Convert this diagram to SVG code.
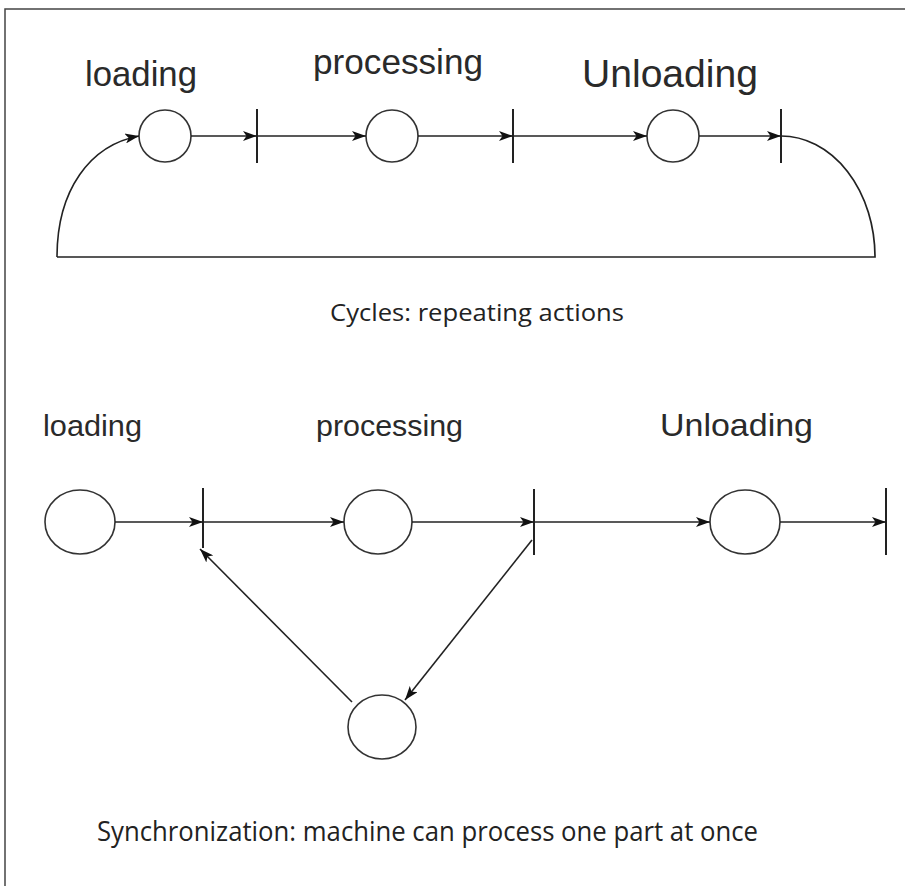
<svg xmlns="http://www.w3.org/2000/svg" width="905" height="886" viewBox="0 0 905 886">
<defs>
<marker id="ah" viewBox="0 0 14 10" refX="14" refY="5" markerWidth="14" markerHeight="10" markerUnits="userSpaceOnUse" orient="auto">
<path d="M0,0 L14,5 L0,10 L3.5,5 z" fill="#111"/>
</marker>
<style>
.lbl{font-family:"Liberation Sans",Arial,sans-serif;fill:#2a2a2a}
.cap{font-family:"Open Sans","Liberation Sans",sans-serif;fill:#222}
.node{fill:#fff;stroke:#333;stroke-width:1.6}
.bar{stroke:#222;stroke-width:2}
.con{fill:none;stroke:#222;stroke-width:1.7}
.arr{fill:none;stroke:#222;stroke-width:1.6;marker-end:url(#ah)}
</style>
</defs>
<rect width="905" height="886" fill="#fff"/>
<path d="M5,886 V9 H905" fill="none" stroke="#444" stroke-width="1.5"/>

<g id="top-labels">
<text class="lbl" x="85" y="86" font-size="35" textLength="112" lengthAdjust="spacingAndGlyphs">loading</text>
<text class="lbl" x="313" y="74" font-size="35" textLength="170" lengthAdjust="spacingAndGlyphs">processing</text>
<text class="lbl" x="582" y="87" font-size="38" textLength="176" lengthAdjust="spacingAndGlyphs">Unloading</text>
</g>

<g id="top-nodes">
<g id="t-loading"><circle class="node" cx="165" cy="136" r="26"/></g>
<g id="t-processing"><circle class="node" cx="392" cy="136" r="26"/></g>
<g id="t-unloading"><circle class="node" cx="673" cy="136" r="26"/></g>
<g id="t-bar1"><line class="bar" x1="257" y1="109" x2="257" y2="163"/></g>
<g id="t-bar2"><line class="bar" x1="513" y1="109" x2="513" y2="163"/></g>
<g id="t-bar3"><line class="bar" x1="781" y1="109" x2="781" y2="163"/></g>
</g>

<g id="top-connectors">
<line class="arr" x1="191" y1="136" x2="257" y2="136"/>
<line class="arr" x1="257" y1="136" x2="366" y2="136"/>
<line class="arr" x1="418" y1="136" x2="513" y2="136"/>
<line class="arr" x1="513" y1="136" x2="647" y2="136"/>
<line class="arr" x1="699" y1="136" x2="781" y2="136"/>
<path class="con" d="M781,136 A94,121 0 0 1 875,257 H57"/>
<path class="arr" d="M57,257 C57,190 90,145 139,136"/>
</g>

<text class="cap" x="330" y="321" font-size="24" textLength="294" lengthAdjust="spacingAndGlyphs">Cycles: repeating actions</text>

<g id="bottom-labels">
<text class="lbl" x="43" y="436" font-size="30" textLength="99" lengthAdjust="spacingAndGlyphs">loading</text>
<text class="lbl" x="316" y="436" font-size="30" textLength="147" lengthAdjust="spacingAndGlyphs">processing</text>
<text class="lbl" x="660" y="436" font-size="32" textLength="153" lengthAdjust="spacingAndGlyphs">Unloading</text>
</g>

<g id="bottom-nodes">
<g id="b-loading"><ellipse class="node" cx="80" cy="522" rx="35" ry="32"/></g>
<g id="b-processing"><ellipse class="node" cx="378" cy="522" rx="34" ry="32"/></g>
<g id="b-unloading"><ellipse class="node" cx="745" cy="522" rx="35" ry="32"/></g>
<g id="b-machine"><ellipse class="node" cx="382" cy="727" rx="34" ry="32"/></g>
<g id="b-bar1"><line class="bar" x1="203" y1="488" x2="203" y2="548"/></g>
<g id="b-bar2"><line class="bar" x1="534" y1="489" x2="534" y2="555"/></g>
<g id="b-bar3"><line class="bar" x1="886" y1="488" x2="886" y2="555"/></g>
</g>

<g id="bottom-connectors">
<line class="arr" x1="115" y1="522" x2="203" y2="522"/>
<line class="arr" x1="203" y1="522" x2="344" y2="522"/>
<line class="arr" x1="412" y1="522" x2="534" y2="522"/>
<line class="arr" x1="534" y1="522" x2="710" y2="522"/>
<line class="arr" x1="780" y1="522" x2="886" y2="522"/>
<line class="arr" x1="532" y1="540" x2="405" y2="700"/>
<line class="arr" x1="352" y1="702" x2="200" y2="549"/>
</g>

<text class="cap" x="97" y="841" font-size="27" textLength="661" lengthAdjust="spacingAndGlyphs">Synchronization: machine can process one part at once</text>
</svg>
